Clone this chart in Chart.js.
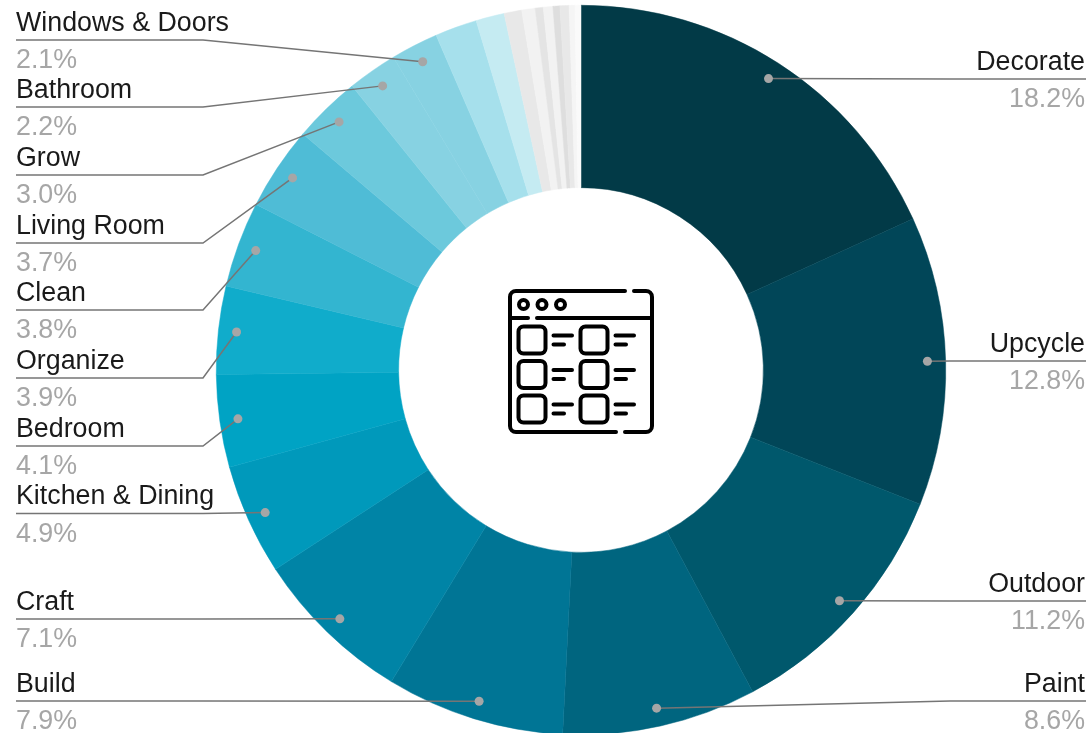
<!DOCTYPE html>
<html>
<head>
<meta charset="utf-8">
<title>Project categories</title>
<script src="https://cdn.jsdelivr.net/npm/chart.js@4"></script>
<style>
	html, body { margin: 0; padding: 0; background: #fff; overflow: hidden; }
	#wrap { width: 1092px; height: 733px; overflow: hidden; }
	canvas { display: block; }
</style>
</head>
<body>
<div id="wrap"><canvas id="categoryChart" width="1092" height="735"></canvas></div>
<script>
// 14 named categories, then the small slices that carry no label
const categories = ['Decorate', 'Upcycle', 'Outdoor', 'Paint', 'Build', 'Craft', 'Kitchen & Dining', 'Bedroom', 'Organize', 'Clean', 'Living Room', 'Grow', 'Bathroom', 'Windows & Doors'];
const namedValues = [18.2, 12.8, 11.2, 8.6, 7.9, 7.1, 4.9, 4.1, 3.9, 3.8, 3.7, 3.0, 2.2, 2.1];
const otherValues = [1.86, 1.26, 0.78, 0.59, 0.36, 0.42, 0.31, 0.40, 0.26, 0.26];
const namedColors = ['#023a47', '#014658', '#00586c', '#00657f', '#007595', '#0084a6', '#0099bb', '#00a3c4', '#10accb', '#33b5d0', '#4fbcd6', '#6cc9dc', '#87d2e2', '#87d2e2'];
const otherColors = ['#a6e0ec', '#c5ebf2', '#e8e8e8', '#f2f2f2', '#e4e4e4', '#f2f2f2', '#dedede', '#e8e8e8', '#f5f5f5', '#fafafa'];

// y of the rule under each category name
const leaderY = [79, 361, 601, 701, 701, 619, 513.5, 446, 378, 310, 243, 175, 107, 40];
const rightSideCount = 4;

const leaderPlugin = {
	id: 'leaders',
	afterDatasetsDraw(chart) {
		const { ctx } = chart;
		const arcs = chart.getDatasetMeta(0).data;

		categories.forEach((name, i) => {
			const { x, y, startAngle, endAngle, outerRadius } = arcs[i].getProps(['x', 'y', 'startAngle', 'endAngle', 'outerRadius']);
			const mid = (startAngle + endAngle) / 2;
			const dotX = x + Math.cos(mid) * outerRadius * 0.95;
			const dotY = y + Math.sin(mid) * outerRadius * 0.95;
			const isRight = i < rightSideCount;
			const lineY = leaderY[i];

			ctx.save();
			ctx.strokeStyle = '#757575';
			ctx.lineWidth = 1.5;
			ctx.beginPath();
			ctx.moveTo(isRight ? 1086 : 16, lineY);
			ctx.lineTo(isRight ? 950 : 203, lineY);
			ctx.lineTo(dotX, dotY);
			ctx.stroke();

			ctx.fillStyle = '#a6a6a6';
			ctx.beginPath();
			ctx.arc(dotX, dotY, 4.5, 0, Math.PI * 2);
			ctx.fill();

			ctx.font = '26.8px "Liberation Sans", Arial, sans-serif';
			ctx.textAlign = isRight ? 'right' : 'left';
			ctx.textBaseline = 'alphabetic';
			const textX = isRight ? 1085 : 16;
			ctx.fillStyle = '#1a1a1a';
			ctx.fillText(name, textX, lineY - 9.5);
			ctx.fillStyle = '#a6a6a6';
			ctx.fillText(namedValues[i].toFixed(1) + '%', textX, lineY + 28);
			ctx.restore();
		});
	}
};

// browser window glyph in the hole of the ring
const iconPlugin = {
	id: 'centerIcon',
	afterDraw(chart) {
		const { ctx } = chart;
		ctx.save();
		ctx.strokeStyle = '#000';
		ctx.lineWidth = 4;
		ctx.lineCap = 'round';
		ctx.lineJoin = 'round';

		ctx.beginPath();
		ctx.moveTo(625, 291);
		ctx.lineTo(516, 291);
		ctx.arcTo(510, 291, 510, 297, 6);
		ctx.lineTo(510, 426);
		ctx.arcTo(510, 432, 516, 432, 6);
		ctx.lineTo(616, 432);
		ctx.moveTo(625, 432);
		ctx.lineTo(645, 432);
		ctx.arcTo(652, 432, 652, 426, 6);
		ctx.lineTo(652, 297);
		ctx.arcTo(652, 291, 646, 291, 6);
		ctx.lineTo(634, 291);
		ctx.moveTo(510, 318);
		ctx.lineTo(528, 318);
		ctx.moveTo(537, 318);
		ctx.lineTo(652, 318);
		ctx.stroke();

		[523.5, 542, 560.5].forEach(cx => {
			ctx.beginPath();
			ctx.arc(cx, 304.5, 4.5, 0, Math.PI * 2);
			ctx.stroke();
		});

		[340, 374.5, 409].forEach(cy => {
			[[532, 553.5, 572, 564], [594, 615.5, 634, 626]].forEach(([boxX, dashX, longEnd, shortEnd]) => {
				ctx.beginPath();
				ctx.roundRect(boxX - 13.5, cy - 13.5, 27, 27, 5);
				ctx.moveTo(dashX, cy - 4.5);
				ctx.lineTo(longEnd, cy - 4.5);
				ctx.moveTo(dashX, cy + 4.5);
				ctx.lineTo(shortEnd, cy + 4.5);
				ctx.stroke();
			});
		});
		ctx.restore();
	}
};

const sliceColors = namedColors.concat(otherColors);

new Chart(document.getElementById('categoryChart'), {
	type: 'doughnut',
	data: {
		labels: categories.concat(otherValues.map(() => '')),
		datasets: [{
			data: namedValues.concat(otherValues),
			backgroundColor: sliceColors,
			// each slice's own colour, so the joins stay nearly invisible
			borderColor: sliceColors,
			borderWidth: 0.5
		}]
	},
	options: {
		responsive: false,
		animation: false,
		cutout: '50%',
		layout: { padding: { top: 5, left: 70 } },
		plugins: { legend: { display: false }, tooltip: { enabled: false } }
	},
	plugins: [leaderPlugin, iconPlugin]
});
</script>
</body>
</html>
